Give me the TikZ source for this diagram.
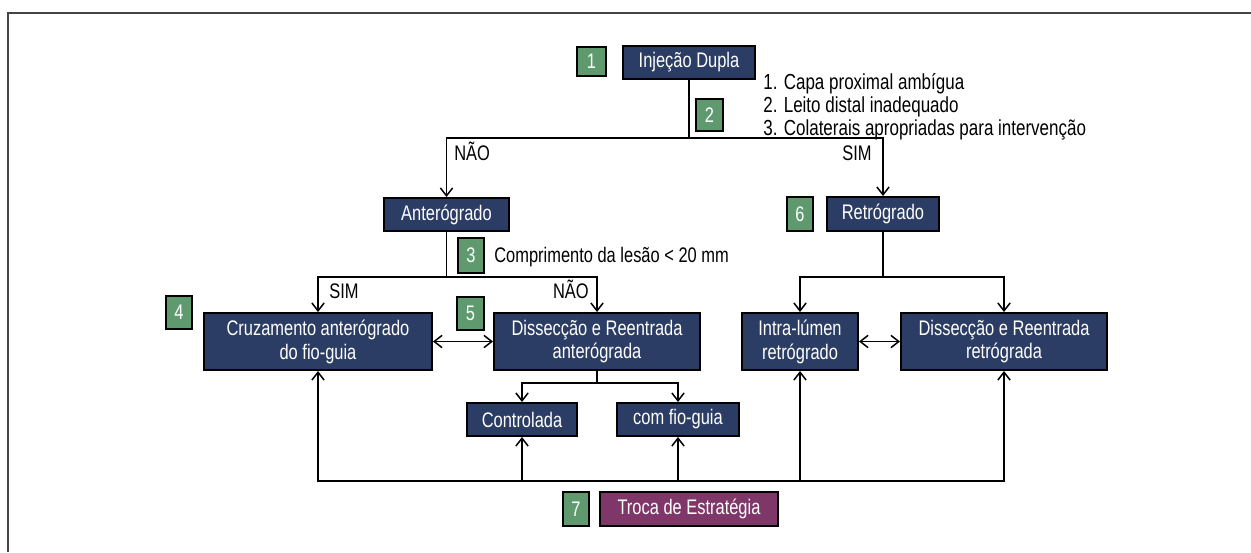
\documentclass[tikz,border=0pt]{standalone}
\usepackage{fontspec}
\setmainfont{Liberation Sans}[FakeStretch=0.78]
\usetikzlibrary{arrows.meta}
\definecolor{navy}{HTML}{2B3D64}
\definecolor{numgreen}{HTML}{5E9A6D}
\definecolor{plum}{HTML}{7E3768}
\definecolor{framegray}{HTML}{444444}
\begin{document}
\begin{tikzpicture}[x=0.02cm,y=-0.02cm,
  font=\fontsize{12}{13.6}\selectfont,
  base/.style={draw=black, line width=1.1pt, text=white, align=center, inner sep=0pt},
  box/.style={base, fill=navy},
  num/.style={base, fill=numgreen},
  plumbox/.style={base, fill=plum},
  wh/.style 2 args={minimum width=#1*0.02cm, minimum height=#2*0.02cm},
  conn/.style={line width=0.85pt},
  arr/.style={conn, -{Straight Barb[length=4.5pt,width=7pt]}},
  dbl/.style={conn, {Straight Barb[length=4.5pt,width=7pt]}-{Straight Barb[length=4.5pt,width=7pt]}},
  lbl/.style={inner sep=0pt, text=black}]
\useasboundingbox (0,0) rectangle (1251,552);
% frame
\draw[draw=framegray, line width=1pt] (8,552) -- (8,13) -- (1251,13);

% nodes
\node[num, wh={29}{29}] (g1) at (591.5,61.5) {1};
\node[box, wh={132}{33}] (inj) at (689,62.5) {Injeção Dupla};
\node[num, wh={27}{32}] (g2) at (709.5,115) {2};
\node[lbl, anchor=west, align=left, font=\fontsize{12.4}{13}\selectfont] (lst) at (763,107)
  {1. Capa proximal ambígua\\2. Leito distal inadequado\\3. Colaterais apropriadas para intervenção};

\node[box, wh={125}{33}] (ante) at (446.5,214.5) {Anterógrado};
\node[num, wh={26}{34}] (g6) at (800,214) {6};
\node[box, wh={112}{34}] (retro) at (883,214) {Retrógrado};

\node[num, wh={26}{35}] (g3) at (471,255.5) {3};
\node[lbl, anchor=base west] (comp) at (494,262) {Comprimento da lesão < 20 mm};

\node[num, wh={26}{33}] (g4) at (179,312.5) {4};
\node[box, wh={228}{57}] (cruz) at (318,341.5) {Cruzamento anterógrado\\do fio-guia};
\node[num, wh={27}{33}] (g5) at (470.5,313.5) {5};
\node[box, wh={206}{57}] (dissA) at (597,341.5) {Dissecção e Reentrada\\anterógrada};
\node[box, wh={116}{57}] (intra) at (800,341.5) {Intra-lúmen\\retrógrado};
\node[box, wh={206}{57}] (dissR) at (1004,341.5) {Dissecção e Reentrada\\retrógrada};

\node[box, wh={110}{33}] (contr) at (522,419.5) {Controlada};
\node[box, wh={122}{33}] (fio) at (678,419.5) {com fio-guia};

\node[num, wh={26}{34}] (g7) at (576,509) {7};
\node[plumbox, wh={178}{34}] (troca) at (689,509) {Troca de Estratégia};

% labels
\node[lbl, anchor=base west] (nao1) at (454,160) {NÃO};
\node[lbl, anchor=base east] (sim1) at (872,160) {SIM};
\node[lbl, anchor=base west] (sim2) at (329,298) {SIM};
\node[lbl, anchor=base east] (nao2) at (589,298) {NÃO};

% connectors
\coordinate (j1) at (689,138);
\draw[conn] (inj.south) -- (j1);
\draw[arr] (j1) -| (ante.north);
\draw[arr] (j1) -| (retro.north);

\coordinate (j2) at (446.5,277);
\draw[conn] (ante.south) -- (j2);
\draw[arr] (j2) -| (cruz.north);
\draw[arr] (j2) -| (dissA.north);

\coordinate (j3) at (883,277);
\draw[conn] (retro.south) -- (j3);
\draw[arr] (j3) -| (intra.north);
\draw[arr] (j3) -| (dissR.north);

\draw[dbl] (cruz.east) -- (dissA.west);
\draw[dbl] (intra.east) -- (dissR.west);

\coordinate (j4) at (597,383);
\draw[conn] (dissA.south) -- (j4);
\draw[arr] (j4) -| (contr.north);
\draw[arr] (j4) -| (fio.north);

\coordinate (jb) at (689,481);
\draw[arr] (jb) -| (cruz.south);
\draw[arr] (jb) -| (contr.south);
\draw[arr] (jb) -| (fio.south);
\draw[arr] (jb) -| (intra.south);
\draw[arr] (jb) -| (dissR.south);
\end{tikzpicture}
\end{document}
